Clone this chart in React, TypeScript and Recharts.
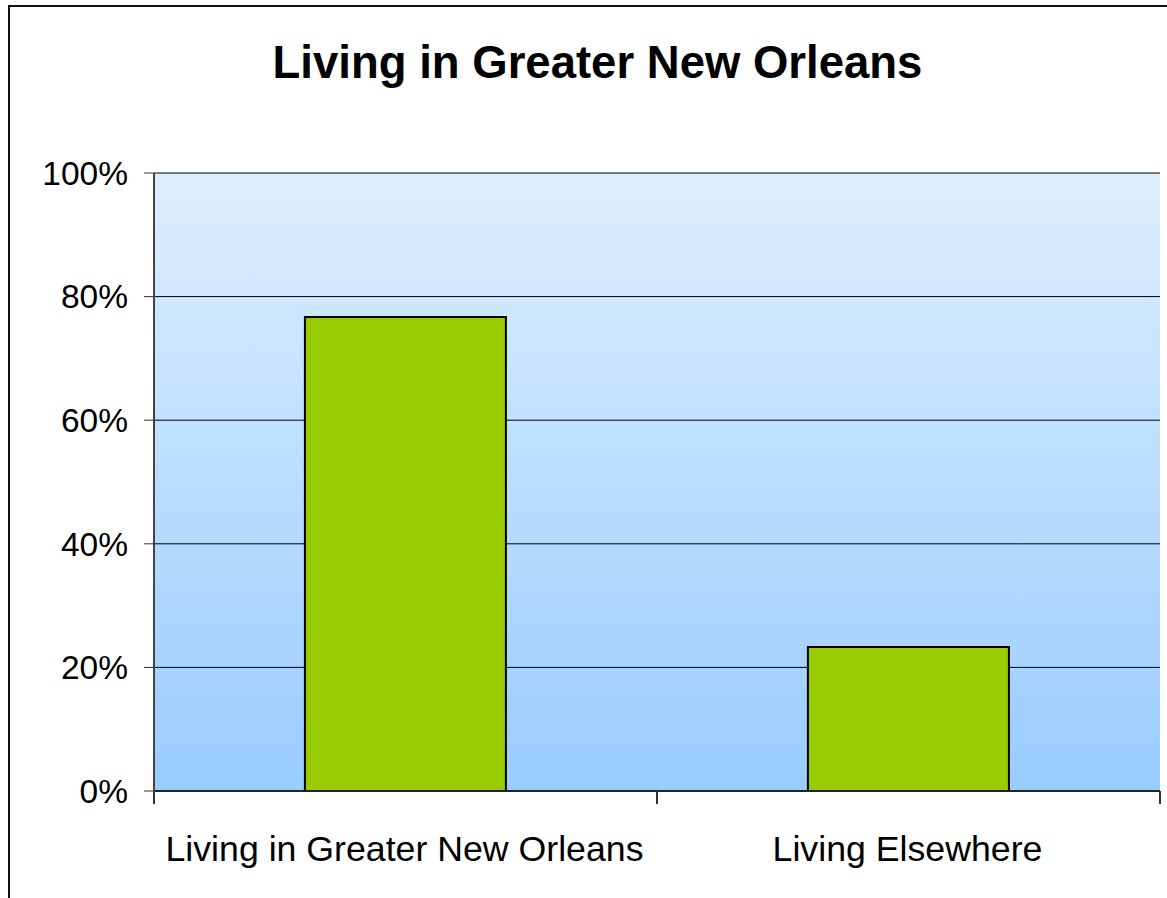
import { BarChart, Bar, XAxis, YAxis, CartesianGrid } from "recharts";

const categories = ["Living in Greater New Orleans", "Living Elsewhere"];
const shares = [76.7, 23.3];
const yTicks = [0, 20, 40, 60, 80, 100];

const data = categories.map((name, i) => ({ name, share: shares[i] }));

const FONT = "Arial, 'Liberation Sans', Helvetica, sans-serif";

// category label plus tick marks at the band edges
function CategoryTick(props: any) {
  const { x, y, payload } = props;
  const half = payload.offset || 0;
  return (
    <g>
      <line x1={x - half} x2={x - half} y1={y - 8} y2={y + 5} stroke="#333" strokeWidth={2} />
      <line x1={x + half} x2={x + half} y1={y - 8} y2={y + 5} stroke="#333" strokeWidth={2} />
      <text
        x={x - 1}
        y={y + 62}
        textAnchor="middle"
        fontSize={35.7}
        fontFamily={FONT}
        fill="#000"
      >
        {payload.value}
      </text>
    </g>
  );
}

export default function App() {
  return (
    <div
      style={{
        position: "absolute",
        left: 0,
        top: 0,
        width: 1167,
        height: 898,
        background: "#fff",
        overflow: "hidden",
      }}
    >
      <div
        style={{
          position: "absolute",
          left: 8,
          top: 5,
          width: 1200,
          height: 1000,
          borderLeft: "2px solid #111",
          borderTop: "2px solid #111",
        }}
      />
      <div
        style={{
          position: "absolute",
          left: 0,
          top: 33,
          width: 1195,
          textAlign: "center",
          fontFamily: FONT,
          fontWeight: "bold",
          fontSize: 45.5,
          lineHeight: "60px",
          color: "#000",
        }}
      >
        Living in Greater New Orleans
      </div>
      <div style={{ position: "absolute", left: 0, top: 0 }}>
        <BarChart
          width={1167}
          height={898}
          data={data}
          margin={{ top: 173, right: 7, bottom: 0, left: 0 }}
          barCategoryGap="30%"
        >
          <defs>
            <linearGradient id="plotBg" x1="0" y1="0" x2="0" y2="1">
              <stop offset="0%" stopColor="#DDEEFF" />
              <stop offset="100%" stopColor="#99CCFF" />
            </linearGradient>
          </defs>
          <CartesianGrid
            vertical={false}
            stroke="#000"
            strokeWidth={1}
            fill="url(#plotBg)"
            fillOpacity={1}
          />
          <XAxis
            dataKey="name"
            height={107}
            axisLine={{ stroke: "#222", strokeWidth: 2 }}
            tickLine={false}
            tick={<CategoryTick />}
            interval={0}
          />
          <XAxis
            xAxisId="top"
            dataKey="name"
            orientation="top"
            height={0}
            axisLine={{ stroke: "#888", strokeWidth: 2 }}
            tick={false}
            tickLine={false}
          />
          <YAxis
            width={154}
            domain={[0, 100]}
            ticks={yTicks}
            interval={0}
            tickFormatter={(v) => `${v}%`}
            axisLine={{ stroke: "#444", strokeWidth: 2 }}
            tickLine={{ stroke: "#333", strokeWidth: 1 }}
            tickSize={10}
            tickMargin={16}
            tick={{ fill: "#000", fontSize: 33.5, fontFamily: FONT }}
          />
          <YAxis
            yAxisId="right"
            orientation="right"
            width={0}
            domain={[0, 100]}
            axisLine={{ stroke: "#888", strokeWidth: 2 }}
            tick={false}
            tickLine={false}
          />
          <Bar
            dataKey="share"
            fill="#99CC00"
            stroke="#000"
            strokeWidth={2}
            isAnimationActive={false}
          />
        </BarChart>
      </div>
    </div>
  );
}
